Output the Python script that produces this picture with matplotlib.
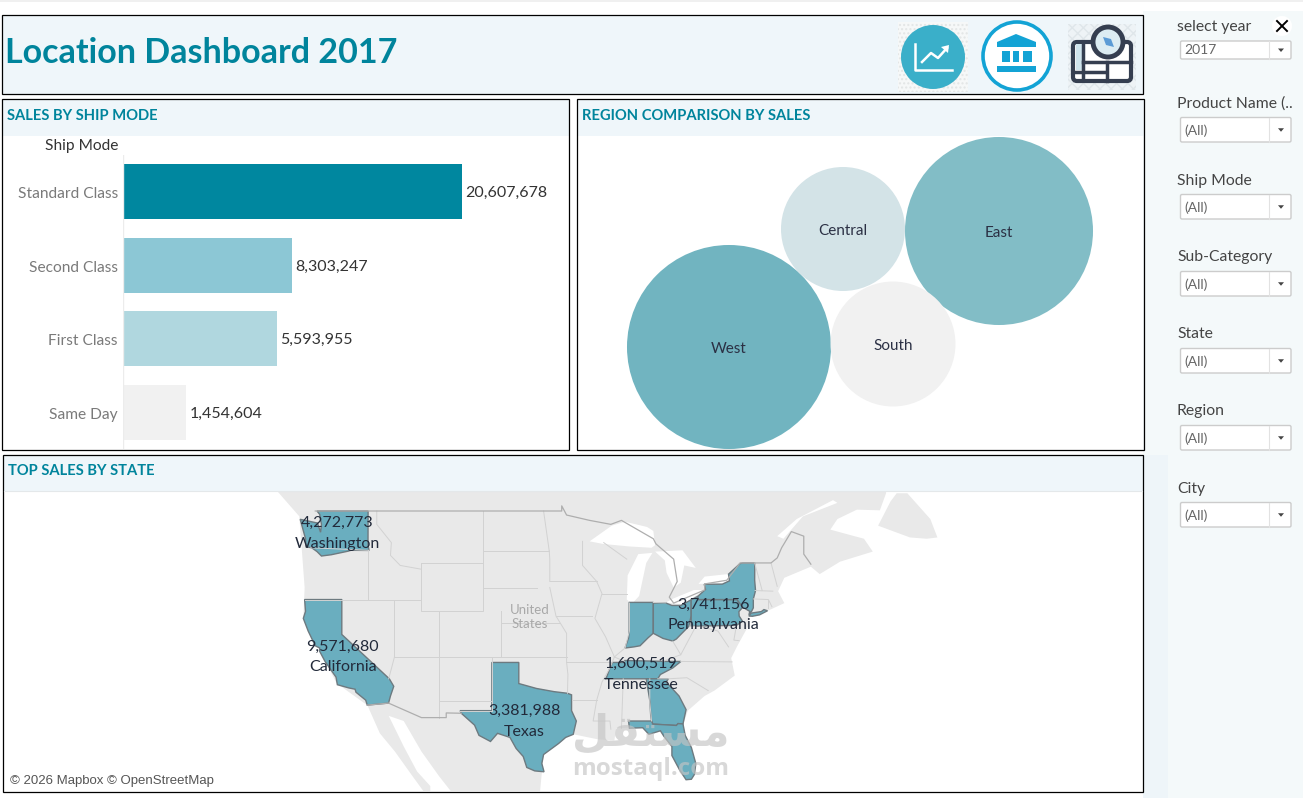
import numpy as np
import matplotlib
matplotlib.use("Agg")
import matplotlib.pyplot as plt
from matplotlib.patches import Rectangle, Circle, Polygon, FancyBboxPatch

W, H = 1303, 798
plt.rcParams['font.family'] = ['Lato', 'DejaVu Sans']

ship_modes = ["Standard Class", "Second Class", "First Class", "Same Day"]
ship_labels = ["20,607,678", "8,303,247", "5,593,955", "1,454,604"]
# bar lengths as drawn in the picture, they do not follow the labels
ship_lengths = [338, 168, 153, 62]
ship_colors = ["#00879f", "#8cc7d5", "#b0d7df", "#f1f1f1"]

regions = ["West", "East", "Central", "South"]
region_sales = [13.86, 11.77, 5.12, 5.20]
region_colors = ["#71b4c0", "#82bdc6", "#d3e3e7", "#f1f1f1"]
region_centers = [(729, 347), (999, 231), (843, 229), (893, 344)]

filters = ["Product Name (..", "Ship Mode", "Sub-Category", "State", "Region", "City"]

state_names = ["Washington", "California", "Texas", "Tennessee", "Pennsylvania"]
state_sales = ["4,272,773", "9,571,680", "3,381,988", "1,600,519", "3,741,156"]
state_label_pos = [(-120.5, 47.25), (-119.9, 36.95), (-99.4, 30.95), (-86.2, 35.35), (-78.0, 40.65)]

# state outlines, lon / lat
WA = [(-122.8, 49), (-117.03, 49), (-117.04, 46.4), (-116.92, 45.99), (-118.98, 46), (-119.3, 45.93),
      (-121.2, 45.65), (-122.3, 45.55), (-122.8, 45.9), (-123.4, 46.2), (-124.05, 46.27), (-124.1, 46.9),
      (-124.7, 48.38), (-123.1, 48.15), (-122.75, 48.1), (-122.4, 47.4), (-122.3, 48), (-122.5, 48.75)]
CA = [(-124.2, 42), (-120, 42), (-120, 39), (-114.63, 35), (-114.13, 34.3), (-114.5, 33.4), (-114.72, 32.72),
      (-117.12, 32.53), (-117.3, 33), (-118.4, 33.75), (-118.5, 34.03), (-119.2, 34.15), (-120.5, 34.45),
      (-120.65, 35.15), (-121.9, 36.6), (-122.5, 37.5), (-122.5, 37.8), (-123, 38), (-123.8, 39.3),
      (-124.35, 40.4), (-124.1, 41)]
TX = [(-106.63, 32), (-103.04, 32), (-103.04, 36.5), (-100, 36.5), (-100, 34.56), (-98, 34.1), (-96, 33.8),
      (-94.5, 33.65), (-94.04, 33.5), (-94.04, 32), (-93.5, 31), (-93.85, 29.7), (-94.7, 29.4), (-95.5, 28.8),
      (-97.2, 27.7), (-97.4, 26.8), (-97.15, 25.96), (-98.2, 26.05), (-99.1, 26.4), (-99.5, 27.5), (-100.3, 28.3),
      (-101, 29.4), (-102.4, 29.8), (-103.2, 29), (-104.5, 29.6), (-105, 30.6), (-106.5, 31.75)]
IN = [(-87.53, 41.76), (-84.8, 41.76), (-84.82, 39.1), (-85.4, 38.7), (-86.3, 38), (-87, 37.9), (-88, 37.8),
      (-87.6, 38.7), (-87.53, 39.35)]
OH = [(-84.8, 41.7), (-83.45, 41.73), (-82.7, 41.5), (-81.7, 41.5), (-80.52, 41.98), (-80.52, 40.64), (-80.8, 39.7),
      (-81.7, 39), (-82.2, 38.6), (-82.6, 38.42), (-83.7, 38.65), (-84.8, 39.1)]
PA = [(-80.52, 41.98), (-79.76, 42.27), (-79.76, 42), (-75.35, 42), (-74.7, 41.35), (-75.13, 40.98), (-75.1, 40.6),
      (-74.72, 40.15), (-75.4, 39.8), (-80.52, 39.72)]
NY = [(-79.76, 42), (-79.76, 42.27), (-78.9, 42.85), (-79.05, 43.27), (-77, 43.28), (-76.2, 43.55), (-76.3, 44.1),
      (-75, 44.95), (-74.7, 45), (-73.34, 45), (-73.35, 43.6), (-73.25, 42.75), (-73.5, 42.05), (-73.5, 41.3),
      (-73.7, 41), (-74, 40.7), (-73.9, 41), (-74.7, 41.35), (-75.35, 42)]
LI = [(-74, 40.6), (-73.75, 40.85), (-72.6, 40.98), (-72.3, 41.15), (-71.9, 41.05), (-72.8, 40.7), (-73.6, 40.58)]
TN = [(-90.3, 35), (-88.2, 35), (-85.6, 35), (-84.3, 35), (-84, 35.4), (-82.6, 36), (-81.68, 36.59), (-83.67, 36.6),
      (-86.5, 36.65), (-88.07, 36.68), (-88.07, 36.5), (-89.42, 36.5), (-89.7, 36), (-90.1, 35.1)]
GA = [(-85.6, 35), (-83.1, 35), (-83.35, 34.7), (-81.9, 33.4), (-81.1, 32.1), (-81.45, 30.72), (-82, 30.75),
      (-82.2, 30.57), (-84.86, 30.7), (-85, 31), (-85.1, 31.6), (-85.18, 32.87)]
FL = [(-87.6, 31), (-85, 31), (-84.86, 30.7), (-82.2, 30.57), (-82, 30.75), (-81.45, 30.72), (-81.2, 29.6),
      (-80.5, 28.4), (-80, 26.8), (-80.15, 25.7), (-80.5, 25.2), (-81.1, 25.15), (-81.8, 26.1), (-82.7, 27.6),
      (-82.7, 28.5), (-83.6, 29.5), (-84, 30.05), (-85.3, 29.7), (-86, 30.35), (-87.5, 30.3)]
filled_states = [WA, CA, TX, IN, OH, PA, NY, LI, TN, GA, FL]

# basemap
land = [(-130, 52), (-127.5, 50.6), (-124.8, 48.6), (-124.2, 43), (-124.35, 40.4), (-122.5, 37.6), (-120.6, 34.6),
        (-117.1, 32.5), (-115.7, 29.8), (-114, 28), (-112, 25.5), (-110, 23), (-110, 24.5), (-111.5, 26), (-113, 28.5),
        (-114.7, 31.5), (-113, 31), (-111, 28), (-109, 25.5), (-106, 22), (-97.8, 22), (-97.4, 25.85), (-97.2, 27.7),
        (-94.7, 29.4), (-93.8, 29.7), (-91, 29.2), (-89.2, 29.1), (-89, 30.3), (-86, 30.4), (-85.2, 29.7), (-83.9, 30),
        (-82.7, 28.5), (-82.7, 27.5), (-81.8, 26), (-81, 25.1), (-80.3, 25.4), (-80, 26.8), (-81.2, 29.5), (-81.4, 30.7),
        (-80.9, 32), (-79, 33.4), (-77.9, 33.9), (-75.6, 35.3), (-76, 36.9), (-75.3, 38), (-74.1, 39.7), (-74, 40.5),
        (-72, 41), (-70, 41.7), (-70.7, 42.7), (-70, 43.8), (-67, 44.7), (-66, 44.1), (-63.7, 45.1), (-60, 45.9),
        (-61, 46.9), (-64.8, 47.6), (-64, 48.4), (-61.8, 49.1), (-59.2, 49.05), (-58.5, 50.3), (-58.5, 53), (-130, 53)]
newfoundland = [(-59.4, 47.9), (-58, 49.7), (-57.3, 50.3), (-56.1, 50.3), (-53.5, 48.4), (-52.7, 47), (-53.9, 46.9), (-55.8, 47)]
lakes = [[(-92, 46.7), (-89.5, 47.9), (-88, 48.2), (-85.5, 47.8), (-84.8, 47.5), (-84.6, 46.4), (-85, 46.2),
          (-87.5, 46.3), (-90.5, 46.5)],
         [(-87.8, 42), (-87.2, 41.65), (-86.4, 42.3), (-85.6, 45), (-84.9, 45.8), (-86.5, 45.7), (-87.7, 44)],
         [(-84.6, 45.9), (-83.5, 45.2), (-83.3, 44.2), (-82.5, 43), (-81.7, 43.4), (-81.3, 44.8), (-80, 44.6), (-81.5, 46)],
         [(-83.4, 41.75), (-81.5, 41.6), (-79, 42.8), (-80.2, 42.8), (-82.5, 42.1)],
         [(-79.7, 43.3), (-77, 43.35), (-76.2, 43.6), (-76.4, 44.1), (-79, 43.9)],
         [(-70.8, 47.1), (-68.6, 48.4), (-64.5, 49.8), (-64, 49.6), (-67.9, 48.6), (-70.1, 46.9)]]
borders = [[(-123, 49), (-95.15, 49), (-95.15, 49.38), (-94.6, 48.7), (-92, 48.3), (-89.6, 48), (-88.4, 48.3),
            (-84.8, 46.9), (-84.5, 46.5), (-82.5, 45.3), (-82.1, 43.5), (-83, 42.2), (-82.5, 41.7), (-79, 42.8),
            (-79, 43.3), (-76.5, 43.6), (-75, 45), (-71.5, 45), (-70.8, 45.4), (-70.3, 46.2), (-69.2, 47.45),
            (-67.8, 47.1), (-67.8, 45.7), (-67, 44.9)],
           [(-117.12, 32.53), (-114.72, 32.72), (-111, 31.33), (-108.2, 31.33), (-108.2, 31.78), (-106.5, 31.75)]]
state_lines = [[(-124.2, 42), (-111.05, 42)], [(-117.04, 46), (-117.04, 42)], [(-116.05, 49), (-116.05, 48), (-114.4, 46.6),
               (-114.5, 45.6), (-113.4, 44.8), (-111.05, 44.5)], [(-123.5, 46.2), (-117, 46)],
               [(-111.05, 45), (-104.05, 45), (-104.05, 41), (-111.05, 41), (-111.05, 45)],
               [(-109.05, 41), (-109.05, 31.33)], [(-114.05, 42), (-114.05, 37), (-94.6, 37)], [(-114.05, 37), (-114.7, 35)],
               [(-102.05, 41), (-102.05, 37)], [(-104.05, 49), (-104.05, 45)], [(-104.05, 45.94), (-96.56, 45.94)],
               [(-104.05, 43), (-98, 43)], [(-102.05, 40), (-95.3, 40)], [(-96.5, 43.5), (-91.2, 43.5)],
               [(-95.8, 40.6), (-91.7, 40.6)], [(-103.04, 37), (-103.04, 32), (-106.6, 32)], [(-109.05, 32.9), (-103, 32.9)],
               [(-94.6, 36.5), (-89.7, 36.5)], [(-94.04, 33), (-91.2, 33)], [(-94.5, 33.65), (-94.45, 35.4), (-94.6, 36.5)],
               [(-96.56, 45.94), (-97.2, 49)], [(-96.5, 43.5), (-96.5, 45.3), (-96.56, 45.94)],
               [(-91.2, 43.5), (-90.6, 42.5), (-91.4, 40.4), (-90.2, 38.8), (-89.2, 37), (-89.7, 36), (-90.6, 34.7),
                (-91.2, 33), (-91.6, 31), (-89.7, 31), (-89.6, 30.2)], [(-96.5, 43), (-95.8, 40.6), (-94.6, 39.1), (-94.6, 36.5)],
               [(-88.2, 35), (-88.4, 30.3)], [(-85.2, 35), (-85.2, 32.8), (-85, 31)], [(-92.8, 46.7), (-92.8, 44.8), (-91.2, 43.5)],
               [(-90.6, 42.5), (-87.8, 42.5)], [(-88, 37.8), (-89.2, 37)], [(-87.5, 41.7), (-87.5, 39.3), (-88, 37.8)],
               [(-90.4, 46.6), (-87.8, 45.3)], [(-84.8, 41.75), (-83.4, 41.73)], [(-88.07, 36.6), (-89.2, 37)],
               [(-82.6, 38.4), (-81.7, 37.2), (-83.7, 36.6)], [(-81.7, 36.59), (-75.9, 36.55)], [(-81.7, 37.2), (-80, 39.7), (-80.52, 39.72)],
               [(-84.3, 35), (-83.1, 35), (-81, 35.1), (-78.6, 33.9)], [(-75.4, 39.8), (-75.7, 38.5), (-75.1, 38.45)],
               [(-79.5, 39.7), (-77.5, 39.3), (-76.3, 37.9)], [(-73.5, 42.05), (-71.8, 42), (-71.4, 41.4)], [(-73.3, 42.75), (-71.3, 42.7)],
               [(-73.35, 45), (-72.5, 42.75)], [(-71.5, 45), (-70.8, 43.1)], [(-71.8, 42), (-71.8, 41.3)]]


def merc(lat):
    return np.log(np.tan(np.pi / 4 + np.radians(lat) / 2))


def to_map(pts):
    pts = np.array(pts)
    return np.column_stack([pts[:, 0], merc(pts[:, 1])])


def px_axes(x0, y0, x1, y1, **kw):
    return fig.add_axes([x0 / W, 1 - y1 / H, (x1 - x0) / W, (y1 - y0) / H], **kw)


def rect(ax, x0, y0, x1, y1, **kw):
    ax.add_patch(Rectangle((x0, y0), x1 - x0, y1 - y0, **kw))


fig = plt.figure(figsize=(W / 100, H / 100), dpi=100, facecolor="white")

# page background, pixel coordinates
bg = px_axes(0, 0, W, H, zorder=0)
bg.set_xlim(0, W)
bg.set_ylim(H, 0)
bg.axis("off")
rect(bg, 0, 0, W, 2, fc="#f0f0f0", lw=0)
rect(bg, 1143, 11, W, H, fc="#f4f9fa", lw=0)
rect(bg, 1143, 455, 1168, H, fc="#eef5f9", lw=0)
rect(bg, 2, 15, 1143, 94, fc="#eff6fa", lw=0)
rect(bg, 2, 99, 569, 136, fc="#eff6fa", lw=0)
rect(bg, 577, 99, 1144, 136, fc="#eff6fa", lw=0)
rect(bg, 3, 455, 1143, 491, fc="#eff6fa", lw=0)

bg.text(5, 53, "Location Dashboard 2017", fontsize=24.5, fontweight="bold", color="#00849c", va="center")
bg.text(7, 116, "SALES BY SHIP MODE", fontsize=10.6, fontweight="bold", color="#00849c", va="center")
bg.text(582, 116, "REGION COMPARISON BY SALES", fontsize=10.6, fontweight="bold", color="#00849c", va="center")
bg.text(8, 471, "TOP SALES BY STATE", fontsize=10.6, fontweight="bold", color="#00849c", va="center")
bg.text(118, 146, "Ship Mode", fontsize=11.2, color="#333333", ha="right", va="center")

# bars
ax = px_axes(123.5, 154.7, 568, 449.3, zorder=1)
ax.patch.set_alpha(0)
y = np.arange(len(ship_modes))
ax.barh(y, ship_lengths, height=0.75, color=ship_colors)
ax.set_xlim(0, 444.5)
ax.set_ylim(3.5, -0.5)
ax.set_yticks(y + 0.012, ship_modes, fontsize=11.2, color="#7a7a7a")
ax.set_xticks([])
ax.tick_params(axis="y", length=0, pad=4)
for s in ax.spines.values():
    s.set_visible(False)
ax.axvline(0, color="#ececec", lw=1)
for i in y:
    ax.text(ship_lengths[i] + 4, i + 0.02, ship_labels[i], fontsize=11.5, color="#333333", va="center")

# bubbles, area follows sales
bub = px_axes(578, 136, 1143, 449, zorder=1)
bub.set_xlim(578, 1143)
bub.set_ylim(449, 136)
bub.axis("off")
for name, val, col, c in zip(regions, region_sales, region_colors, region_centers):
    bub.add_patch(Circle(c, 27.4 * np.sqrt(val), fc=col, lw=0))
    bub.text(c[0], c[1] + 2, name, fontsize=11, color="#2b3044", ha="center", va="center")

# map
mp = px_axes(4, 491, 1142, 791, zorder=1)
mp.set_xlim(-117.04 + (4 - 368) / 8.85, -117.04 + (1142 - 368) / 8.85)
mp.set_ylim(merc(49) - 280 / 507, merc(49) + 20 / 507)
mp.axis("off")
mp.add_patch(Polygon(to_map(land), fc="#e9e9e9", lw=0))
mp.add_patch(Polygon(to_map(newfoundland), fc="#e9e9e9", lw=0))
for lake in lakes:
    mp.add_patch(Polygon(to_map(lake), fc="white", lw=0))
for line in state_lines:
    pts = to_map(line)
    mp.plot(pts[:, 0], pts[:, 1], color="#d2d2d2", lw=0.7)
for line in borders:
    pts = to_map(line)
    mp.plot(pts[:, 0], pts[:, 1], color="#aeaeae", lw=0.9)
for st in filled_states:
    mp.add_patch(Polygon(to_map(st), fc="#6aaebf", ec="#6d7a80", lw=1))
mp.text(-98.8, merc(40.55), "United\nStates", fontsize=9.5, color="#a8a8a8", ha="center", va="center", linespacing=1.2)
for name, val, pos in zip(state_names, state_sales, state_label_pos):
    mp.text(pos[0], merc(pos[1]) + 11 / 507, val, fontsize=11.5, color="#222a3a", ha="center", va="center")
    mp.text(pos[0], merc(pos[1]) - 10 / 507, name, fontsize=11.5, color="#222a3a", ha="center", va="center")

# top layer, frames and sidebar
fg = px_axes(0, 0, W, H, zorder=2)
fg.patch.set_alpha(0)
fg.set_xlim(0, W)
fg.set_ylim(H, 0)
fg.axis("off")
for x0, y0, x1, y1 in [(2, 15, 1142.5, 93.5), (2, 99, 568.5, 449.5), (577, 99, 1143.5, 449.5), (3, 455, 1142.5, 791.5)]:
    rect(fg, x0, y0, x1, y1, fc="none", ec="black", lw=0.9)
fg.plot([4, 1142], [491, 491], color="#e4e8ea", lw=0.8)

fg.text(651, 769, "mostaql.com", fontsize=17.5, fontweight="bold", family=["Open Sans"], color="#c4c4c4", alpha=0.65, ha="center", va="center")
fg.text(651, 733, "\ufede\ufed8\ufe98\ufeb4\ufee3", family=["DejaVu Sans"], fontsize=31, fontweight="bold", color="#c4c4c4",
        alpha=0.65, ha="center", va="center")
fg.text(10, 781, "© 2026 Mapbox © OpenStreetMap", family=["Liberation Sans"], fontsize=9.5, color="#555555", va="center")

# filters
fg.text(1177, 27, "select year", fontsize=11.3, color="#444444", va="center")
fg.add_patch(Circle((1282, 26), 10, fc="white", lw=0))
fg.plot([1277, 1287], [21, 31], color="black", lw=1.4)
fg.plot([1277, 1287], [31, 21], color="black", lw=1.4)


def dropdown(y0, y1, text):
    fg.add_patch(FancyBboxPatch((1180.5, y0), 110.5, y1 - y0, boxstyle="round,pad=0,rounding_size=1.5",
                                fc="white", ec="#cccccc", lw=1))
    fg.plot([1269, 1269], [y0, y1], color="#e2e2e2", lw=0.8)
    ym = (y0 + y1) / 2
    fg.add_patch(Polygon([(1278, ym - 1.5), (1284, ym - 1.5), (1281, ym + 2)], fc="#444444", lw=0))
    fg.text(1184, ym + 0.5, text, fontsize=10, color="#666666", va="center")


dropdown(41, 59, "2017")
for i, label in enumerate(filters):
    fg.text(1177, 103.5 + 77 * i, label, fontsize=11.3, color="#444444", va="center")
    dropdown(117.5 + 77 * i, 142 + 77 * i, "(All)")

# icon 1, chart
rect(fg, 898, 22, 968, 92, fc="#f6f8f8", ec="#e3e6e6", hatch="....", lw=0)
fg.add_patch(Circle((933, 57), 32, fc="#3aafc9", lw=0))
fg.plot([915, 915, 952], [44, 69.5, 69.5], color="white", lw=1.8)
fg.plot([922, 931, 938, 947], [62, 53, 58, 48], color="white", lw=1.8)
fg.add_patch(Polygon([(949, 45), (941, 47), (948, 53)], fc="white", lw=0))

# icon 2, bank
fg.add_patch(Circle((1017, 56), 34, fc="white", ec="#13a3d5", lw=2.6))
fg.add_patch(Polygon([(997, 42), (1016, 34), (1036, 42), (1036, 47), (997, 47)], fc="#13a3d5", lw=0))
for x0, x1 in [(1002, 1010), (1013, 1019), (1023, 1032)]:
    rect(fg, x0, 51, x1, 62, fc="#13a3d5", lw=0)
rect(fg, 997, 66, 1036, 72, fc="#13a3d5", lw=0)

# icon 3, map and compass
dark = "#353e50"
rect(fg, 1068, 24, 1136, 90, fc="#eef3f6", ec="#dfe6ea", hatch="xxx", lw=0)
fg.add_patch(FancyBboxPatch((1073, 42), 58, 39, boxstyle="round,pad=0,rounding_size=4", fc="white", ec=dark, lw=3))
rect(fg, 1076, 44, 1082, 70, fc="#cfe4ec", lw=0)
fg.plot([1083, 1083], [44, 80], color=dark, lw=2.5)
fg.plot([1083, 1131], [62, 62], color=dark, lw=2.5)
fg.plot([1075, 1105], [72, 72], color=dark, lw=2.5)
fg.plot([1107, 1107], [62, 81], color=dark, lw=2.5)
fg.add_patch(Circle((1108, 42), 15, fc="#dcecf2", ec=dark, lw=3.5))
fg.add_patch(Polygon([(1103, 37), (1111, 39), (1114, 47), (1106, 45)], fc="#5b9bd5", lw=0))

fig.savefig("out.png", dpi=100)
